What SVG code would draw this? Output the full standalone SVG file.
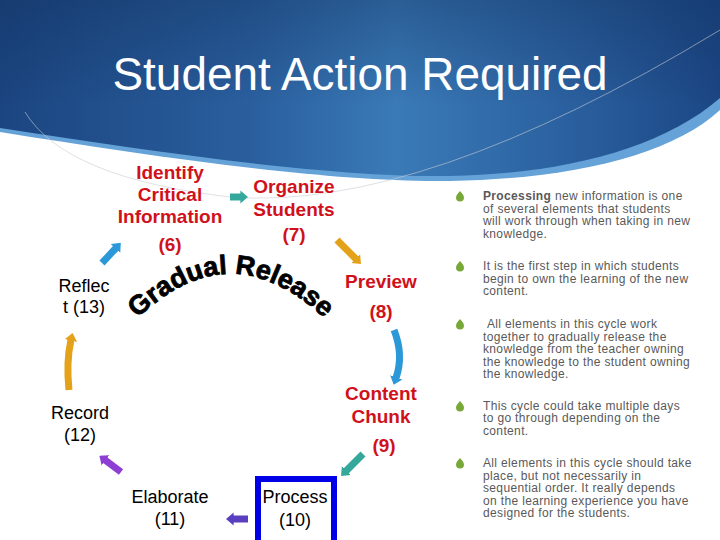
<svg xmlns="http://www.w3.org/2000/svg" width="720" height="540" viewBox="0 0 720 540">
<defs>
<linearGradient id="hdr" x1="0" y1="0" x2="1" y2="0">
<stop offset="0" stop-color="#1b4580"/>
<stop offset="0.35" stop-color="#2a5f9e"/>
<stop offset="0.55" stop-color="#3a7ab7"/>
<stop offset="0.8" stop-color="#2a5f9e"/>
<stop offset="1" stop-color="#1b4684"/>
</linearGradient>
<linearGradient id="shade" x1="0" y1="0" x2="0" y2="1">
<stop offset="0" stop-color="#0e2a55" stop-opacity="0.35"/>
<stop offset="0.6" stop-color="#0e2a55" stop-opacity="0"/>
</linearGradient>
<marker id="hOrange" viewBox="0 0 6 10" markerWidth="1.1" markerHeight="1.9" refX="0.5" refY="5" orient="auto"><path d="M0,0 L6,5 L0,10 Z" fill="#e3a21a"/></marker>
<marker id="hBlue" viewBox="0 0 6 10" markerWidth="1.1" markerHeight="1.9" refX="0.5" refY="5" orient="auto"><path d="M0,0 L6,5 L0,10 Z" fill="#2b98d8"/></marker>
<marker id="hTeal" viewBox="0 0 6 10" markerWidth="1.1" markerHeight="1.9" refX="0.5" refY="5" orient="auto"><path d="M0,0 L6,5 L0,10 Z" fill="#35a89c"/></marker>
<marker id="hIndigo" viewBox="0 0 6 10" markerWidth="1.1" markerHeight="1.9" refX="0.5" refY="5" orient="auto"><path d="M0,0 L6,5 L0,10 Z" fill="#5a3ec0"/></marker>
<marker id="hViolet" viewBox="0 0 6 10" markerWidth="1.1" markerHeight="1.9" refX="0.5" refY="5" orient="auto"><path d="M0,0 L6,5 L0,10 Z" fill="#8c3fd2"/></marker>
<path id="bullet" d="M0,-5 C1.5,-3 4,-1 4,1.5 A4,4 0 0 1 -4,1.5 C-4,-1 -1.5,-3 0,-5 Z" fill="#78a838"/>
<path id="arc" d="M138,318 Q230,230 324,318"/>
</defs>
<style>
.red{font-family:"Liberation Sans",Arial,sans-serif;font-weight:bold;font-size:19px;fill:#d0111b;text-anchor:middle}
.blk{font-family:"Liberation Sans",Arial,sans-serif;font-size:18px;fill:#000;text-anchor:middle}
.body{font-family:"Liberation Sans",Arial,sans-serif;font-size:12px;letter-spacing:0.35px;fill:#595959}
.arr{fill:none;stroke-width:7;stroke-linecap:butt}
</style>
<rect width="720" height="540" fill="#fff"/>
<g id="header">
<path d="M0,0 H720 V110 C670,156 570,179 450,181 C330,183 150,156 0,132 Z" fill="#64a2d8"/>
<path d="M0,0 H720 V98 C660,150 560,174 450,176 C330,178 150,151 0,128 Z" fill="url(#hdr)"/>
<path d="M0,0 H720 V98 C660,150 560,174 450,176 C330,178 150,151 0,128 Z" fill="url(#shade)"/>
<path d="M25,112 Q65,178 230,197 Q420,212 720,30" fill="none" stroke="#c8ccd4" stroke-width="1" opacity="0.6"/>
<text x="360" y="90" font-family="'Liberation Sans',Arial,sans-serif" font-size="47" fill="#fff" text-anchor="middle" textLength="495" lengthAdjust="spacingAndGlyphs">Student Action Required</text>
</g>
<g id="connectors">
<line class="arr" x1="230" y1="197" x2="241" y2="197" stroke="#35a89c" marker-end="url(#hTeal)"/>
<line class="arr" x1="337" y1="240" x2="356" y2="259" stroke="#e3a21a" marker-end="url(#hOrange)"/>
<path class="arr" d="M394,330 Q404,355 396,378" stroke="#2b98d8" marker-end="url(#hBlue)"/>
<line class="arr" x1="363" y1="454" x2="346" y2="471" stroke="#35a89c" marker-end="url(#hTeal)"/>
<line class="arr" x1="248" y1="519" x2="233" y2="519" stroke="#5a3ec0" marker-end="url(#hIndigo)"/>
<line class="arr" x1="121" y1="472" x2="105" y2="460" stroke="#8c3fd2" marker-end="url(#hViolet)"/>
<path class="arr" d="M69,390 Q66,362 71,340" stroke="#e3a21a" marker-end="url(#hOrange)"/>
<line class="arr" x1="102" y1="263" x2="116" y2="248" stroke="#2b98d8" marker-end="url(#hBlue)"/>
</g>
<g id="node-identify">
<text class="red" x="170" y="179">Identify</text>
<text class="red" x="170" y="201">Critical</text>
<text class="red" x="170" y="223">Information</text>
<text class="red" x="170" y="251">(6)</text>
</g>
<g id="node-organize">
<text class="red" x="294" y="193">Organize</text>
<text class="red" x="294" y="216">Students</text>
<text class="red" x="294" y="241">(7)</text>
</g>
<g id="node-preview">
<text class="red" x="381" y="288">Preview</text>
<text class="red" x="381" y="318">(8)</text>
</g>
<g id="node-content">
<text class="red" x="381" y="400">Content</text>
<text class="red" x="381" y="423">Chunk</text>
<text class="red" x="384" y="452">(9)</text>
</g>
<g id="node-process">
<rect x="258" y="479" width="76" height="64" fill="none" stroke="#0000e6" stroke-width="6"/>
<text class="blk" x="295" y="503">Process</text>
<text class="blk" x="295" y="526">(10)</text>
</g>
<g id="node-elaborate">
<text class="blk" x="170" y="503">Elaborate</text>
<text class="blk" x="170" y="525">(11)</text>
</g>
<g id="node-record">
<text class="blk" x="80" y="419">Record</text>
<text class="blk" x="80" y="441">(12)</text>
</g>
<g id="node-reflect">
<text class="blk" x="84" y="292">Reflec</text>
<text class="blk" x="84" y="313">t (13)</text>
</g>
<g id="gradual-release">
<text font-family="'Liberation Sans',Arial,sans-serif" font-weight="bold" font-size="27" fill="#000" stroke="#000" stroke-width="0.8"><textPath href="#arc" startOffset="50%" text-anchor="middle">Gradual Release</textPath></text>
</g>
<g id="notes" class="body">
<use href="#bullet" x="460" y="196"/>
<text x="483" y="200"><tspan font-weight="bold">Processing</tspan> new information is one</text>
<text x="483" y="213">of several elements that students</text>
<text x="483" y="225">will work through when taking in new</text>
<text x="483" y="238">knowledge.</text>
<use href="#bullet" x="460" y="266"/>
<text x="483" y="270">It is the first step in which students</text>
<text x="483" y="283">begin to own the learning of the new</text>
<text x="483" y="295">content.</text>
<use href="#bullet" x="460" y="324"/>
<text x="487" y="328">All elements in this cycle work</text>
<text x="483" y="341">together to gradually release the</text>
<text x="483" y="353">knowledge from the teacher owning</text>
<text x="483" y="366">the knowledge to the student owning</text>
<text x="483" y="378">the knowledge.</text>
<use href="#bullet" x="460" y="406"/>
<text x="483" y="410">This cycle could take multiple days</text>
<text x="483" y="422">to go through depending on the</text>
<text x="483" y="435">content.</text>
<use href="#bullet" x="460" y="463"/>
<text x="483" y="467">All elements in this cycle should take</text>
<text x="483" y="480">place, but not necessarily in</text>
<text x="483" y="492">sequential order. It really depends</text>
<text x="483" y="505">on the learning experience you have</text>
<text x="483" y="517">designed for the students.</text>
</g>
</svg>
